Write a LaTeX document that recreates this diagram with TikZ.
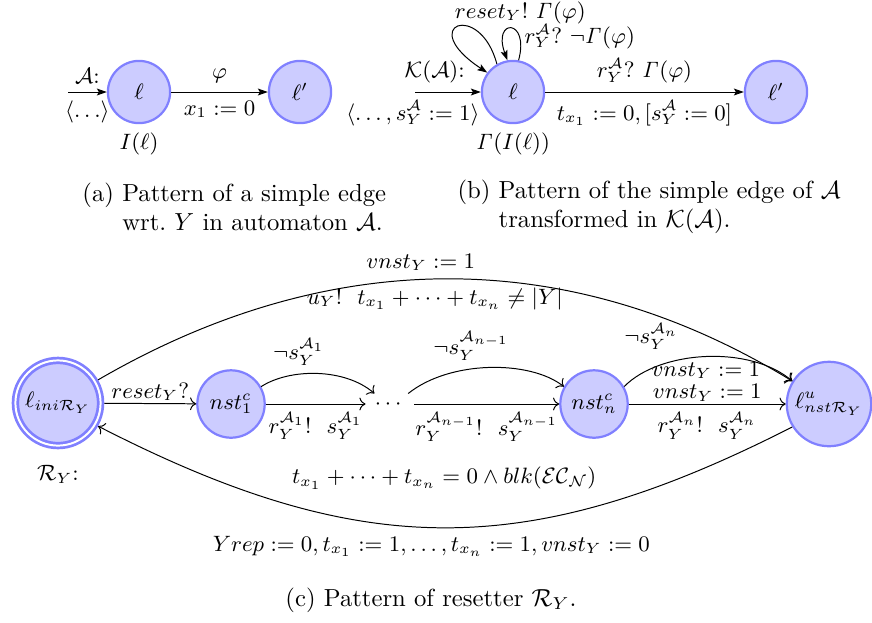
\documentclass[tikz,border=0pt]{standalone}
\usepackage{amsmath,amssymb}
\usetikzlibrary{arrows.meta}
\begin{document}
\begin{tikzpicture}[x=0.405pt,y=-0.405pt,font=\small,
  stt/.style={circle, draw=blue!50, fill=blue!20, line width=0.9pt, inner sep=0pt},
  smallstt/.style={stt, minimum size=25.2pt},
  midstt/.style={stt, minimum size=27.3pt},
  arrb/.style={-{Stealth[length=4pt,width=2.8pt,inset=0.8pt]}},
  arrc/.style={->},
  closeabove/.style={above, inner sep=1pt},
  capt/.style={font=\normalsize, align=left, inner sep=0pt}]
\useasboundingbox (0,0) rectangle (872,622);

% ---------- (a)
\node[smallstt, label={below:$I(\ell)$}] (a1) at (139,92) {$\ell$};
\node[smallstt] (a2) at (300,92) {$\ell'$};
\coordinate (a0) at (68,92);
\draw[arrb] (a0) -- (a1) node[midway, above] {$\mathcal{A}$:} node[midway, below] {$\langle\ldots\rangle$};
\draw[arrb] (a1) -- (a2) node[midway, above] {$\varphi$} node[midway, below] {$x_1 := 0$};

% ---------- (b)
\node[smallstt, label={below:$\mathit{\Gamma}(I(\ell))$}] (b1) at (513,92) {$\ell$};
\node[smallstt] (b2) at (776,92) {$\ell'$};
\coordinate (b0) at (415,92);
\draw[arrb] (b0) -- (b1) node[pos=0.3, above] {$\mathcal{K}(\mathcal{A})$:}
  node[pos=1, anchor=north east, xshift=3pt] {$\langle\ldots, s_Y^{\mathcal{A}} := 1\rangle$};
\draw[arrb] (b1) -- (b2) node[midway, above] {$r_Y^{\mathcal{A}}?\ \mathit{\Gamma}(\varphi)$}
  node[midway, below] {$t_{x_1} := 0, [s_Y^{\mathcal{A}} := 0]$};
\draw[arrb] (b1.120) .. controls (480,0) and (415,25) .. (b1.143)
  node[pos=0.4, anchor=south west, xshift=-7.8pt, yshift=-2.8pt] {$reset_Y!\ \mathit{\Gamma}(\varphi)$};
\draw[arrb] (b1.80) .. controls (530,18) and (492,18) .. (b1.100)
  node[pos=0.25, anchor=west, xshift=-1.5pt] {$r_Y^{\mathcal{A}}?\ \neg\mathit{\Gamma}(\varphi)$};

% ---------- captions (a), (b)
\node[capt, anchor=west] (capa) at (82,207) {(a) Pattern of a simple edge\\\hphantom{(a) }wrt.\ $Y$ in automaton $\mathcal{A}$.};
\node[capt, anchor=west] (capb) at (457,207) {(b) Pattern of the simple edge of $\mathcal{A}$\\\hphantom{(b) }transformed in $\mathcal{K}(\mathcal{A})$.};

% ---------- (c)
\node[stt, double=white, line width=1.1pt, double distance=0.8pt, minimum size=34.5pt, outer sep=1.5pt,
  label={[label distance=3pt]below:$\mathcal{R}_Y$:}] (ini) at (58,403) {$\ell_{ini\mathcal{R}_Y}$};
\node[midstt] (n1) at (231,404) {$nst_1^c$};
\node[inner sep=0pt, minimum width=19.4pt, minimum height=8.1pt] (dots) at (390,404) {$\cdots$};
\node[midstt] (nn) at (594,404) {$nst_n^c$};
\node[stt, minimum size=34.2pt] (fin) at (829,404) {$\ell^u_{nst\mathcal{R}_Y}$};

\draw[arrc] (ini) -- (n1) node[midway, closeabove] {$reset_Y?$};
\draw[arrc] (n1) -- (dots) node[midway, below] {$r_Y^{\mathcal{A}_1}!\ \ s_Y^{\mathcal{A}_1}$};
\draw[arrc] (n1.30) .. controls (290,368) and (345,368) .. (dots.146)
  node[pos=0.35, above] {$\neg s_Y^{\mathcal{A}_1}$};
\draw[arrc] (dots) -- (nn) node[midway, below] {$r_Y^{\mathcal{A}_{n-1}}!\ \ s_Y^{\mathcal{A}_{n-1}}$};
\draw[arrc] (dots.30) .. controls (450,360) and (530,360) .. (nn.150)
  node[pos=0.4, above] {$\neg s_Y^{\mathcal{A}_{n-1}}$};
\draw[arrc] (nn) -- (fin) node[midway, closeabove] {$vnst_Y := 1$}
  node[midway, below] {$r_Y^{\mathcal{A}_n}!\ \ s_Y^{\mathcal{A}_n}$};
\draw[arrc] (nn.30) .. controls (660,350) and (750,345) .. (fin.148)
  node[pos=0.2, above, yshift=4pt] {$\neg s_Y^{\mathcal{A}_n}$}
  node[pos=0.5, below, inner sep=2pt] {$vnst_Y := 1$};
\draw[arrc] (ini.30) .. controls (330,245) and (570,245) .. (fin.148)
  node[pos=0.46, above] {$vnst_Y := 1$}
  node[pos=0.48, below] {$u_Y!\ \ t_{x_1} + \cdots + t_{x_n} \neq |Y|$};
\draw[arrc] (fin.212) .. controls (527,562) and (361,561) .. (ini.330)
  node[pos=0.5, above=12pt] {$t_{x_1} + \cdots + t_{x_n} = 0 \wedge blk(\mathcal{EC}_{\mathcal{N}})$}
  node[pos=0.52, below] {$Yrep := 0, t_{x_1} := 1, \ldots, t_{x_n} := 1, vnst_Y := 0$};

\node[capt] (capc) at (431,600) {(c) Pattern of resetter $\mathcal{R}_Y$.};
\end{tikzpicture}
\end{document}
